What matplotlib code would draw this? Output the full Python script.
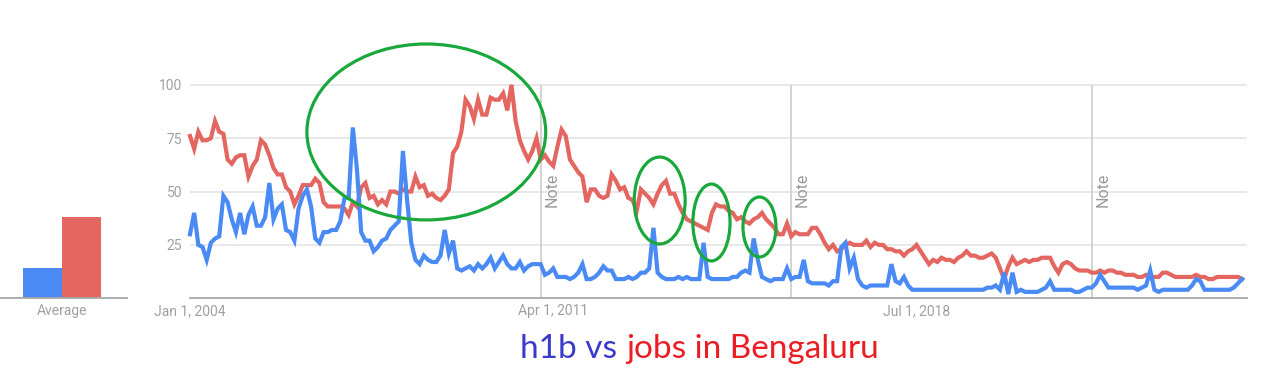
import matplotlib
matplotlib.use("Agg")
import matplotlib.pyplot as plt
from matplotlib.patches import Ellipse

# monthly interest, Jan 2004 onwards (Google Trends style, 0-100)
h1b = [30, 40, 25, 24, 18, 26, 28, 29, 48, 45, 37, 31, 40, 30, 39, 43, 34, 34, 38, 54,
       37, 42, 44, 32, 31, 27, 42, 48, 51, 43, 28, 26, 31, 31, 32, 32, 36, 47, 47, 80,
       60, 31, 27, 27, 22, 24, 27, 28, 32, 34, 36, 69, 46, 26, 18, 16, 20, 18, 17, 17,
       20, 32, 21, 27, 14, 13, 14, 15, 13, 16, 14, 16, 19, 14, 17, 20, 16, 14, 14, 17,
       13, 15, 16, 16, 16, 11, 12, 14, 10, 10, 10, 9, 10, 12, 16, 9, 9, 10, 12, 15,
       13, 13, 9, 9, 9, 10, 9, 10, 12, 12, 14, 33, 12, 10, 9, 9, 9, 10, 9, 10,
       9, 9, 9, 26, 10, 9, 9, 9, 9, 9, 10, 10, 12, 13, 12, 28, 18, 10, 9, 8,
       9, 9, 9, 14, 9, 10, 10, 18, 8, 7, 7, 7, 7, 6, 8, 8, 24, 26, 14, 19,
       9, 6, 5, 6, 6, 6, 6, 6, 16, 8, 7, 10, 6, 4, 4, 4, 4, 4, 4, 4,
       4, 4, 4, 4, 4, 4, 4, 4, 4, 4, 4, 5, 5, 6, 4, 12, 2, 12, 3, 4,
       3, 3, 3, 3, 4, 5, 8, 4, 4, 4, 4, 4, 3, 3, 4, 5, 5, 7, 11, 8,
       5, 5, 5, 5, 5, 5, 5, 4, 5, 6, 13, 4, 3, 4, 4, 4, 4, 4, 4, 4,
       6, 9, 8, 4, 4, 4, 4, 4, 4, 4, 5, 7, 9]

jobs = [76, 70, 78, 74, 74, 75, 83, 78, 77, 65, 63, 66, 67, 67, 57, 62, 65, 74, 72, 67,
        61, 58, 58, 52, 50, 44, 48, 53, 53, 53, 56, 54, 45, 43, 43, 43, 43, 42, 39, 45,
        43, 52, 54, 47, 48, 44, 46, 44, 50, 50, 49, 51, 50, 50, 57, 52, 53, 48, 49, 47,
        46, 48, 51, 68, 71, 78, 93, 90, 84, 93, 86, 86, 94, 93, 93, 96, 88, 100, 83, 74,
        69, 65, 69, 75, 65, 67, 64, 62, 71, 79, 76, 65, 62, 59, 57, 45, 51, 51, 48, 47,
        48, 58, 55, 51, 52, 47, 46, 41, 51, 49, 47, 44, 49, 53, 55, 49, 49, 44, 40, 37,
        36, 35, 34, 33, 32, 40, 44, 43, 43, 41, 40, 37, 38, 36, 35, 37, 38, 40, 37, 35,
        33, 30, 30, 35, 29, 31, 30, 30, 30, 33, 33, 30, 26, 23, 25, 22, 23, 25, 26, 25,
        25, 25, 27, 24, 26, 25, 25, 23, 23, 22, 22, 20, 22, 23, 25, 22, 19, 16, 18, 17,
        19, 18, 18, 17, 19, 20, 22, 20, 20, 19, 19, 20, 21, 19, 14, 9, 15, 19, 16, 17,
        18, 17, 18, 18, 19, 19, 19, 15, 12, 16, 17, 16, 14, 13, 13, 13, 12, 12, 13, 12,
        13, 13, 12, 12, 11, 11, 11, 10, 10, 11, 10, 10, 10, 12, 12, 11, 10, 10, 10, 10,
        10, 11, 10, 10, 9, 9, 10, 10, 10, 10, 10, 10, 9]

avg_values = [14, 38]
date_labels = ['Jan 1, 2004', 'Apr 1, 2011', 'Jul 1, 2018']
date_months = [0, 87, 174]
note_months = [84, 144, 216]
y_ticks = [25, 50, 75, 100]

BLUE = '#4a8af4'
RED = '#e36660'
GREEN = '#1aa83c'
GRAY_TXT = '#a0a0a0'

fig = plt.figure(figsize=(12.8, 3.82), dpi=100)
W, H = 1280, 382

# main trend chart
ax = fig.add_axes([190 / W, 83.7 / H, 1057 / W, 224.2 / H])
months = list(range(len(h1b)))
ax.plot(months, jobs, color=RED, lw=3, solid_joinstyle='miter', clip_on=False, zorder=3)
ax.plot(months, h1b, color=BLUE, lw=3, solid_joinstyle='miter', clip_on=False, zorder=4)
ax.set_xlim(0, 1057 / 4.175)
ax.set_ylim(0, 105)

for y in y_ticks:
    ax.axhline(y, color='#e6e6e6', lw=1.3, zorder=1)
ax.vlines(note_months, 0, 100, color='#d0d0d0', lw=1.3, zorder=2)
for m in note_months:
    ax.text(m + 0.9, 42.8, 'Note', rotation=90, ha='left', va='bottom',
            color='#999999', fontsize=11.5, family='Roboto')

for s in ['top', 'right', 'left']:
    ax.spines[s].set_visible(False)
ax.spines['bottom'].set_color('#a8a8a8')
ax.spines['bottom'].set_linewidth(1.3)
ax.set_xticks(date_months, date_labels)
ax.set_yticks(y_ticks, [str(v) for v in y_ticks])
ax.tick_params(length=0, colors=GRAY_TXT, labelsize=10)
ax.tick_params(axis='x', pad=4)
ax.tick_params(axis='y', pad=5.5)
for lab in ax.get_xticklabels() + ax.get_yticklabels():
    lab.set_family('Roboto')

# hand-drawn highlight ellipses
for cx, cy, w, h in [(56.6, 77.9, 57.2, 82.4), (112.5, 45.8, 12.2, 40.7),
                     (124.9, 35.5, 8.9, 36.0), (136.4, 33.4, 7.9, 28.1)]:
    ax.add_patch(Ellipse((cx, cy), w, h, fill=False, ec=GREEN, lw=2.3,
                         clip_on=False, zorder=5))

# average bars
ax0 = fig.add_axes([0, 83.7 / H, 127 / W, 224.2 / H])
ax0.bar([0, 1], avg_values, width=1, color=[BLUE, RED])
ax0.set_xlim(-1.09, 2.17)
ax0.set_ylim(0, 105)
for s in ['top', 'right', 'left']:
    ax0.spines[s].set_visible(False)
ax0.spines['bottom'].set_color('#a8a8a8')
ax0.spines['bottom'].set_linewidth(1.3)
ax0.set_yticks([])
ax0.set_xticks([0.5], ['Average'])
ax0.tick_params(length=0, colors=GRAY_TXT, labelsize=10, pad=4)
for lab in ax0.get_xticklabels():
    lab.set_family('Roboto')

# two-coloured caption
t1 = fig.text(520 / W, 1 - 358 / H, 'h1b vs', color='#3a3acb', fontsize=24,
              family='Lato', va='baseline', ha='left')
fig.canvas.draw()
bb = t1.get_window_extent(fig.canvas.get_renderer())
fig.text((bb.x1 + 9) / W, 1 - 358 / H, 'jobs in Bengaluru', color='#ec1c24',
         fontsize=24, family='Lato', va='baseline', ha='left')

fig.savefig('out.png', dpi=100)
